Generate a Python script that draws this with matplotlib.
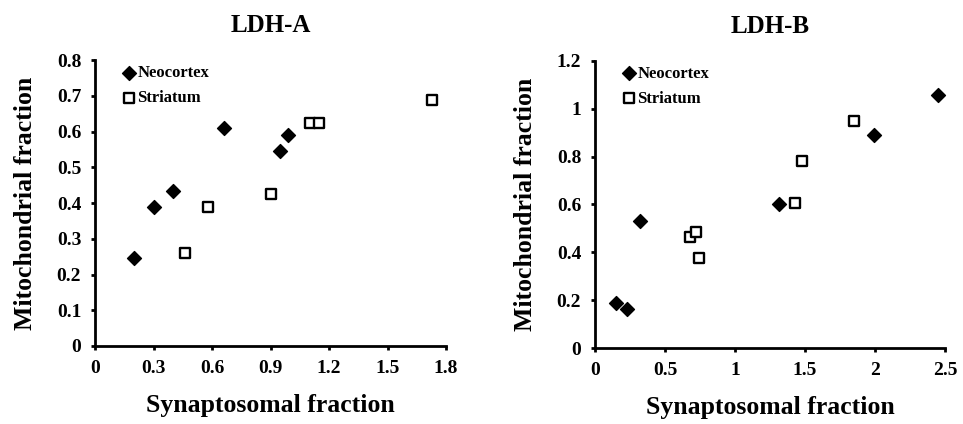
import matplotlib.pyplot as plt

plt.rcParams['font.family'] = ['Liberation Serif', 'DejaVu Serif']
plt.rcParams['font.weight'] = 'bold'

# LDH-A
a_neo_x = [0.20, 0.30, 0.40, 0.66, 0.95, 0.99]
a_neo_y = [0.245, 0.39, 0.435, 0.61, 0.545, 0.59]
a_str_x = [0.46, 0.58, 0.90, 1.10, 1.15, 1.73]
a_str_y = [0.26, 0.39, 0.425, 0.625, 0.625, 0.69]
a_xticks = [0, 0.3, 0.6, 0.9, 1.2, 1.5, 1.8]
a_xlabels = ['0', '0.3', '0.6', '0.9', '1.2', '1.5', '1.8']
a_yticks = [0, 0.1, 0.2, 0.3, 0.4, 0.5, 0.6, 0.7, 0.8]
a_ylabels = ['0', '0.1', '0.2', '0.3', '0.4', '0.5', '0.6', '0.7', '0.8']

# LDH-B
b_neo_x = [0.15, 0.23, 0.32, 1.31, 1.99, 2.45]
b_neo_y = [0.19, 0.165, 0.53, 0.60, 0.89, 1.055]
b_str_x = [0.68, 0.72, 0.74, 1.43, 1.48, 1.85]
b_str_y = [0.465, 0.485, 0.375, 0.605, 0.78, 0.95]
b_xticks = [0, 0.5, 1, 1.5, 2, 2.5]
b_xlabels = ['0', '0.5', '1', '1.5', '2', '2.5']
b_yticks = [0, 0.2, 0.4, 0.6, 0.8, 1.0, 1.2]
b_ylabels = ['0', '0.2', '0.4', '0.6', '0.8', '1', '1.2']

fig = plt.figure(figsize=(9.63, 4.24), dpi=100)
ax1 = fig.add_axes([0.0987, 0.184, 0.3645, 0.674])
ax2 = fig.add_axes([0.618, 0.1785, 0.3634, 0.6785])


def panel(ax, title, nx, ny, sx, sy, xt, xl, yt, yl):
    ax.scatter(nx, ny, marker='D', s=50, color='black', label='Neocortex',
               clip_on=False, zorder=3)
    ax.scatter(sx, sy, marker='s', s=60, facecolor='white', edgecolor='black',
               linewidths=1.7, label='Striatum', clip_on=False, zorder=3)
    ax.set_xlim(xt[0], xt[-1])
    ax.set_ylim(yt[0], yt[-1])
    ax.set_xticks(xt)
    ax.set_xticklabels(xl)
    ax.set_yticks(yt)
    ax.set_yticklabels(yl)
    for s in ['top', 'right']:
        ax.spines[s].set_visible(False)
    for s in ['left', 'bottom']:
        ax.spines[s].set_linewidth(2)
    ax.tick_params(direction='out', length=3, width=2, labelsize=14, pad=7)
    ax.set_title(title, fontsize=18, fontweight='bold', pad=20)
    ax.set_xlabel('Synaptosomal fraction', fontsize=18.5, fontweight='bold', labelpad=12)
    ax.set_ylabel('Mitochondrial fraction', fontsize=18.5, fontweight='bold', labelpad=14)
    ax.legend(loc='upper left', bbox_to_anchor=(0.03, 1.035), frameon=False,
              handletextpad=0.0, labelspacing=0.55, prop={'size': 12, 'weight': 'bold'},
              handlelength=1.0)


panel(ax1, 'LDH-A', a_neo_x, a_neo_y, a_str_x, a_str_y, a_xticks, a_xlabels, a_yticks, a_ylabels)
panel(ax2, 'LDH-B', b_neo_x, b_neo_y, b_str_x, b_str_y, b_xticks, b_xlabels, b_yticks, b_ylabels)

fig.savefig('out.png', dpi=100)
